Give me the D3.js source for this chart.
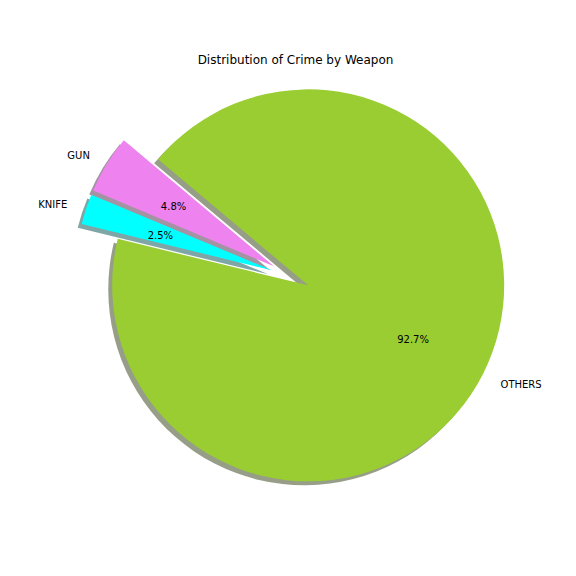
<!DOCTYPE html>
<html>
<head>
<meta charset="utf-8">
<script src="https://cdn.jsdelivr.net/npm/d3@7"></script>
<style>
  html, body { margin: 0; padding: 0; background: #ffffff; }
  svg { display: block; font-family: "DejaVu Sans", sans-serif; }
</style>
</head>
<body>
<svg id="chart" width="576" height="576"></svg>
<script>
const categories = ["GUN", "KNIFE", "OTHERS"];
const values = [4.8, 2.5, 92.7];
const colors = ["#ee82ee", "#00ffff", "#9acd32"];
const explode = [0.1, 0.1, 0.1];
const title = "Distribution of Crime by Weapon";

const W = 576, H = 576;
const cx = 290.7, cy = 276.5, R = 196;
const startDeg = 140; // matplotlib-style start angle, counter-clockwise
const textDy = 1.5;   // baseline compensation for centred text

const svg = d3.select("#chart");
const color = d3.scaleOrdinal().domain(categories).range(colors);

const toRad = d => d * Math.PI / 180;
const a0 = toRad(90 - startDeg);
const pie = d3.pie().sort(null).value(d => d.v)
  .startAngle(a0).endAngle(a0 - 2 * Math.PI);
const data = categories.map((c, i) => ({ c, v: values[i], e: explode[i] }));
const arcs = pie(data);
const arc = d3.arc().innerRadius(0).outerRadius(R);
const total = d3.sum(values);

function offset(d, k) {
  const m = (d.startAngle + d.endAngle) / 2;
  return [Math.sin(m) * k, -Math.cos(m) * k];
}

const g = svg.append("g").attr("transform", `translate(${cx},${cy})`);

// shadows (drawn beneath all wedges)
const sh = g.append("g");
arcs.forEach(d => {
  const [ox, oy] = offset(d, d.data.e * R);
  const c = d3.rgb(color(d.data.c));
  const sc = d3.rgb(c.r * 0.3, c.g * 0.3, c.b * 0.3);
  sh.append("path")
    .attr("d", arc(d))
    .attr("transform", `translate(${ox - 0.02 * R},${oy + 0.02 * R})`)
    .attr("fill", sc.toString())
    .attr("fill-opacity", 0.5);
});

// wedges
arcs.forEach(d => {
  const [ox, oy] = offset(d, d.data.e * R);
  g.append("path")
    .attr("d", arc(d))
    .attr("transform", `translate(${ox},${oy})`)
    .attr("fill", color(d.data.c));
});

// labels
arcs.forEach(d => {
  const [ox, oy] = offset(d, d.data.e * R);
  const [lx, ly] = offset(d, 1.1 * R);
  g.append("text")
    .attr("x", ox + lx).attr("y", oy + ly + textDy)
    .attr("text-anchor", lx > 0 ? "start" : "end")
    .attr("dominant-baseline", "central")
    .attr("font-size", 10)
    .attr("fill", "#000")
    .text(d.data.c);
  const [px, py] = offset(d, 0.6 * R);
  g.append("text")
    .attr("x", ox + px).attr("y", oy + py + textDy)
    .attr("text-anchor", "middle")
    .attr("dominant-baseline", "central")
    .attr("font-size", 10)
    .attr("fill", "#000")
    .text((d.data.v / total * 100).toFixed(1) + "%");
});

svg.append("text")
  .attr("x", 295.5).attr("y", 59 + textDy / 2)
  .attr("text-anchor", "middle")
  .attr("dominant-baseline", "central")
  .attr("font-size", 12)
  .attr("fill", "#000")
  .text(title);
</script>
</body>
</html>
